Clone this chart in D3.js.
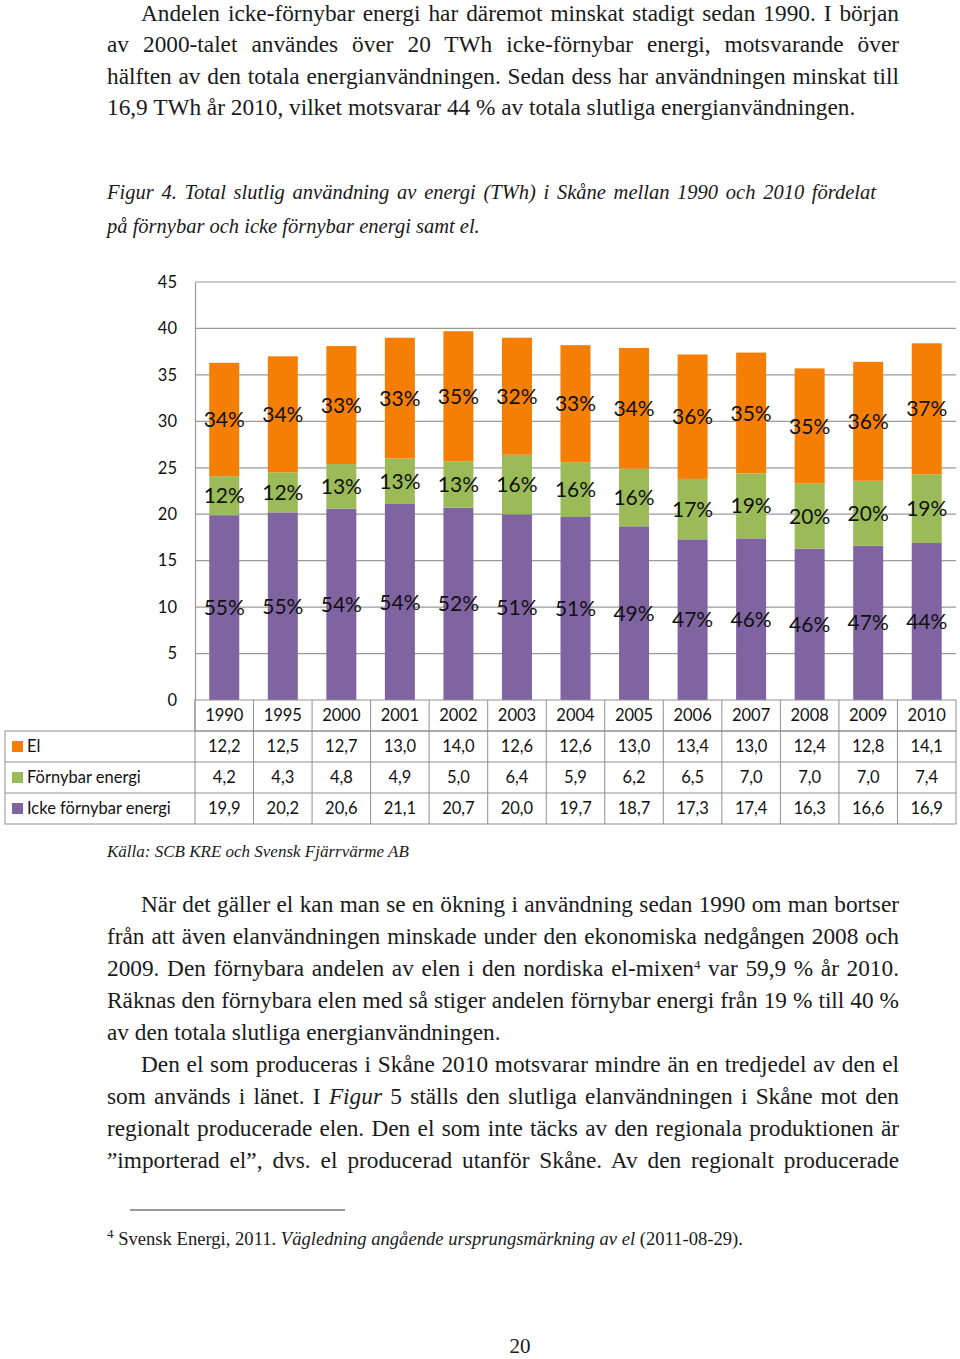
<!DOCTYPE html>
<html><head><meta charset="utf-8">
<script src="https://cdn.jsdelivr.net/npm/d3@7"></script>
<style>
html,body{margin:0;padding:0;background:#fff;}
svg{display:block;}
</style></head>
<body>
<svg id="page" width="960" height="1359"></svg>
<script>
// ---------- DATA ----------
const years = ["1990","1995","2000","2001","2002","2003","2004","2005","2006","2007","2008","2009","2010"];
const el = [12.2,12.5,12.7,13.0,14.0,12.6,12.6,13.0,13.4,13.0,12.4,12.8,14.1];
const fornybar = [4.2,4.3,4.8,4.9,5.0,6.4,5.9,6.2,6.5,7.0,7.0,7.0,7.4];
const ickeFornybar = [19.9,20.2,20.6,21.1,20.7,20.0,19.7,18.7,17.3,17.4,16.3,16.6,16.9];
const pctEl = ["34%","34%","33%","33%","35%","32%","33%","34%","36%","35%","35%","36%","37%"];
const pctForn = ["12%","12%","13%","13%","13%","16%","16%","16%","17%","19%","20%","20%","19%"];
const pctIcke = ["55%","55%","54%","54%","52%","51%","51%","49%","47%","46%","46%","47%","44%"];
const seriesNames = ["El","Förnybar energi","Icke förnybar energi"];
const yTicks = [0,5,10,15,20,25,30,35,40,45];

// ---------- STYLES ----------
const colors = {"Icke förnybar energi":"#8064A2","Förnybar energi":"#9BBB59","El":"#F57F05"};
const grid = "#9a9a9a";
const sans = "Lato, 'Open Sans', sans-serif";
const serif = "'Liberation Serif', 'DejaVu Serif', serif";

const svg = d3.select("#page");

// ---------- PROSE ----------
function line(g, parts, x, y, size, target, italicAll, supScale){
  const t = g.append("text").attr("x",x).attr("y",y)
    .attr("font-family",serif).attr("font-size",size).attr("fill","#1a1a1a");
  parts.forEach(p=>{
    const ts = t.append("tspan").text(p.t);
    if(p.i || italicAll) ts.attr("font-style","italic");
    if(p.sup) ts.attr("font-size",size*(supScale||0.55)).attr("baseline-shift","super");
  });
  if(target){
    const w = t.node().getComputedTextLength();
    const txt = parts.map(p=>p.t).join("");
    const n = (txt.match(/ /g)||[]).length;
    if(n>0) t.attr("word-spacing",(target - w)/n);
  }
  return t;
}
const P = svg.append("g");
const fs = 23.3;
// paragraph 1
line(P,[{t:"Andelen icke-förnybar energi har däremot minskat stadigt sedan 1990. I början"}],141,21,fs,899-141);
line(P,[{t:"av 2000-talet användes över 20 TWh icke-förnybar energi, motsvarande över"}],107,52,fs,899-107);
line(P,[{t:"hälften av den totala energianvändningen. Sedan dess har användningen minskat till"}],107,84,fs,899-107);
line(P,[{t:"16,9 TWh år 2010, vilket motsvarar 44 % av totala slutliga energianvändningen."}],107,115,fs,null);
// caption
line(P,[{t:"Figur 4. Total slutlig användning av energi (TWh) i Skåne mellan 1990 och 2010 fördelat"}],107,199,20.5,876-107,true);
line(P,[{t:"på förnybar och icke förnybar energi samt el."}],107,233,20.5,null,true);
// source
line(P,[{t:"Källa: SCB KRE och Svensk Fjärrvärme AB"}],107,857,17,null,true);
// paragraph 2
line(P,[{t:"När det gäller el kan man se en ökning i användning sedan 1990 om man bortser"}],141,912,fs,899-141);
line(P,[{t:"från att även elanvändningen minskade under den ekonomiska nedgången 2008 och"}],107,944,fs,899-107);
line(P,[{t:"2009. Den förnybara andelen av elen i den nordiska el-mixen"},{t:"4",sup:true},{t:" var 59,9 % år 2010."}],107,976,fs,899-107);
line(P,[{t:"Räknas den förnybara elen med så stiger andelen förnybar energi från 19 % till 40 %"}],107,1008,fs,899-107);
line(P,[{t:"av den totala slutliga energianvändningen."}],107,1040,fs,null);
// paragraph 3
line(P,[{t:"Den el som produceras i Skåne 2010 motsvarar mindre än en tredjedel av den el"}],141,1072,fs,899-141);
line(P,[{t:"som används i länet. I "},{t:"Figur",i:true},{t:" 5 ställs den slutliga elanvändningen i Skåne mot den"}],107,1104,fs,899-107);
line(P,[{t:"regionalt producerade elen. Den el som inte täcks av den regionala produktionen är"}],107,1136,fs,899-107);
line(P,[{t:"\u201Dimporterad el\u201D, dvs. el producerad utanför Skåne. Av den regionalt producerade"}],107,1168,fs,899-107);
// footnote
P.append("line").attr("x1",130).attr("x2",345).attr("y1",1210).attr("y2",1210).attr("stroke","#333").attr("stroke-width",1);
line(P,[{t:"4",sup:true},{t:" Svensk Energi, 2011. "},{t:"Vägledning angående ursprungsmärkning av el",i:true},{t:" (2011-08-29)."}],107,1245,18.6,null,false,0.7);
P.append("text").attr("x",520).attr("y",1353).attr("text-anchor","middle")
  .attr("font-family",serif).attr("font-size",21).attr("fill","#1a1a1a").text("20");

// ---------- CHART ----------
const x0 = 195, x1 = 956, yTop = 282, yBase = 700;
const y = d3.scaleLinear().domain([0,45]).range([yBase,yTop]);
const xBar = d3.scaleBand().domain(years).range([x0,x1]).paddingInner(0.4875).paddingOuter(0.24375);
const xCol = d3.scaleBand().domain(years).range([x0,x1]).padding(0);

const C = svg.append("g");
C.append("g").selectAll("line").data(yTicks.filter(d=>d>0)).join("line")
  .attr("x1",x0).attr("x2",x1).attr("y1",d=>y(d)).attr("y2",d=>y(d))
  .attr("stroke",grid).attr("stroke-width",1.2);
const yAxis = d3.axisLeft(y).tickValues(yTicks).tickSize(0).tickPadding(18);
const ax = C.append("g").attr("transform",`translate(${x0},0)`).call(yAxis);
ax.select(".domain").attr("stroke",grid).attr("stroke-width",1.2);
ax.selectAll("text").attr("font-family",sans).attr("font-size",16.5).attr("fill","#111");

const rows = years.map((yr,i)=>({year:yr,"Icke förnybar energi":ickeFornybar[i],"Förnybar energi":fornybar[i],"El":el[i],
  pcts:{"Icke förnybar energi":pctIcke[i],"Förnybar energi":pctForn[i],"El":pctEl[i]}}));
const stack = d3.stack().keys(["Icke förnybar energi","Förnybar energi","El"])(rows);

const layers = C.append("g").selectAll("g").data(stack).join("g").attr("fill",d=>colors[d.key]);
layers.selectAll("rect").data(d=>d).join("rect")
  .attr("x",d=>xBar(d.data.year)).attr("width",xBar.bandwidth())
  .attr("y",d=>y(d[1])).attr("height",d=>y(d[0])-y(d[1]));

const lab = C.append("g");
stack.forEach(s=>{
  lab.selectAll(null).data(s).join("text")
    .attr("x",d=>xBar(d.data.year)+xBar.bandwidth()/2)
    .attr("y",d=>y((d[0]+d[1])/2))
    .attr("dy","0.36em").attr("text-anchor","middle")
    .attr("font-family",sans).attr("font-size",21).attr("fill","#111")
    .text(d=>d.data.pcts[s.key]);
});

// ---------- DATA TABLE ----------
const T = svg.append("g");
const rowH = 31, tLeft = 5;
const border = "#8f8f8f";
T.append("rect").attr("x",x0).attr("y",yBase).attr("width",x1-x0).attr("height",rowH).attr("fill","none").attr("stroke",border);
T.append("rect").attr("x",tLeft).attr("y",yBase+rowH).attr("width",x1-tLeft).attr("height",rowH*3).attr("fill","none").attr("stroke",border);
[2,3].forEach(k=>T.append("line").attr("x1",tLeft).attr("x2",x1).attr("y1",yBase+rowH*k).attr("y2",yBase+rowH*k).attr("stroke",border));
T.selectAll(".col").data(years).join("line").attr("class","col")
  .attr("x1",d=>xCol(d)).attr("x2",d=>xCol(d)).attr("y1",yBase).attr("y2",yBase+rowH*4).attr("stroke",border);
T.selectAll(".yr").data(years).join("text").attr("class","yr")
  .attr("x",d=>xCol(d)+xCol.bandwidth()/2).attr("y",yBase+rowH/2).attr("dy","0.36em")
  .attr("text-anchor","middle").attr("font-family",sans).attr("font-size",16.5).attr("fill","#111").text(d=>d);
const tableRows = [{name:"El",vals:el},{name:"Förnybar energi",vals:fornybar},{name:"Icke förnybar energi",vals:ickeFornybar}];
const fmt = v=>d3.format(".1f")(v).replace(".",",");
tableRows.forEach((r,k)=>{
  const cy = yBase+rowH*(k+1)+rowH/2;
  T.append("rect").attr("x",12).attr("y",cy-5.5).attr("width",11).attr("height",11).attr("fill",colors[r.name]);
  T.append("text").attr("x",27).attr("y",cy).attr("dy","0.36em").attr("font-family",sans).attr("font-size",16.5).attr("fill","#111").text(r.name);
  T.selectAll(null).data(r.vals).join("text")
    .attr("x",(d,i)=>xCol(years[i])+xCol.bandwidth()/2).attr("y",cy).attr("dy","0.36em")
    .attr("text-anchor","middle").attr("font-family",sans).attr("font-size",16.5).attr("fill","#111").text(fmt);
});
</script>
</body></html>
